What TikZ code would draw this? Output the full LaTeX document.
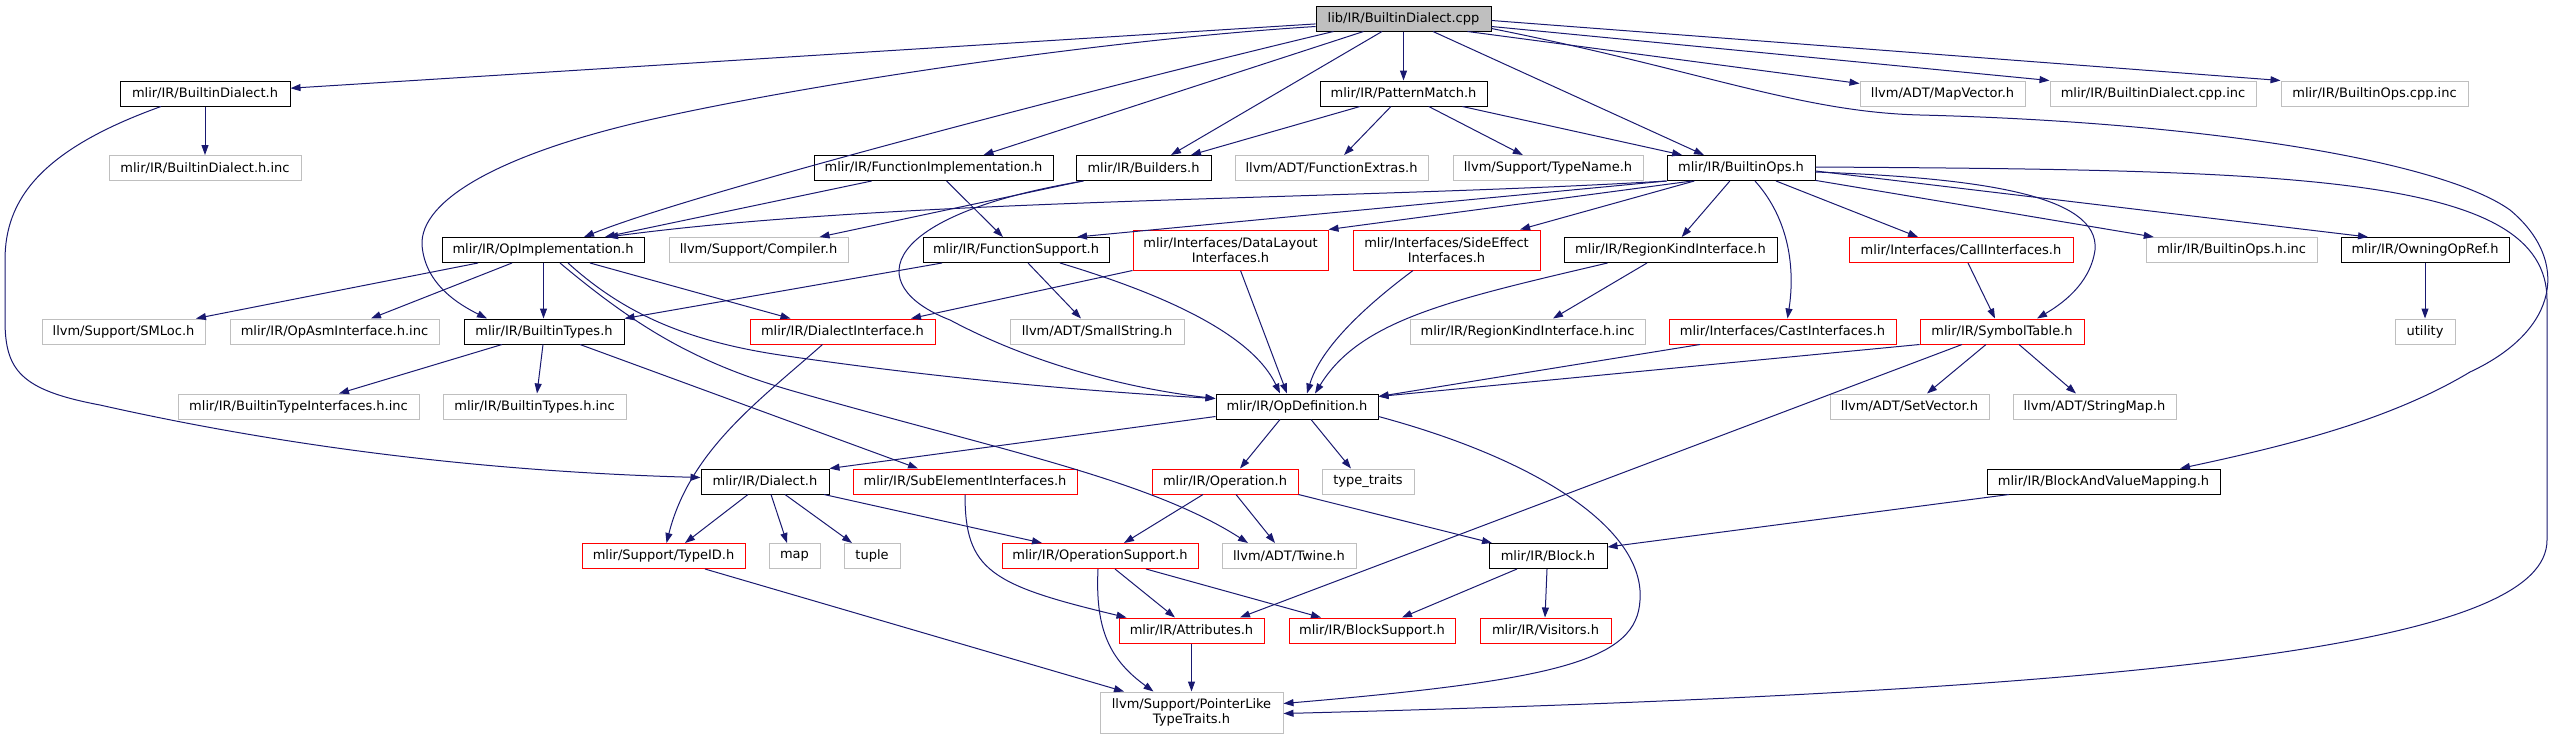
\documentclass[tikz,border=0pt]{standalone}
\usepackage{fontspec}
\setmainfont{DejaVu Sans}
\usetikzlibrary{arrows.meta}
\definecolor{edgec}{HTML}{191970}
\definecolor{grayb}{HTML}{BFBFBF}
\definecolor{redb}{HTML}{FF0000}
\begin{document}
\begin{tikzpicture}[x=1pt,y=-1pt,
  nd/.style={draw, line width=1pt, inner sep=0pt, minimum height=25pt, align=center,
    font=\fontsize{13}{15}\selectfont, text=black},
  blk/.style={nd, draw=black},
  gry/.style={nd, draw=grayb},
  rd/.style={nd, draw=redb},
  rootn/.style={nd, draw=black, fill=grayb},
  e/.style={draw=edgec, line width=1pt, -{Triangle[length=10pt,width=7pt]}}]
\useasboundingbox (0,0) rectangle (2555,739);
% row 0
\node[rootn, minimum width=175pt] (root) at (1403.5,18.5) {lib/IR/BuiltinDialect.cpp};
% row 1
\node[blk, minimum width=170pt] (bdh) at (205,93.5) {mlir/IR/BuiltinDialect.h};
\node[blk, minimum width=167pt] (pm) at (1403.5,93.5) {mlir/IR/PatternMatch.h};
\node[gry, minimum width=165pt] (mapvec) at (1942.5,93.5) {llvm/ADT/MapVector.h};
\node[gry, minimum width=206pt] (bdcppinc) at (2153,93.5) {mlir/IR/BuiltinDialect.cpp.inc};
\node[gry, minimum width=187pt] (bopscppinc) at (2374.5,93.5) {mlir/IR/BuiltinOps.cpp.inc};
% row 2
\node[gry, minimum width=192pt] (bdhinc) at (205,168) {mlir/IR/BuiltinDialect.h.inc};
\node[blk, minimum width=239pt] (funcimpl) at (933.5,168) {mlir/IR/FunctionImplementation.h};
\node[blk, minimum width=135pt] (builders) at (1143.5,168) {mlir/IR/Builders.h};
\node[gry, minimum width=193pt] (funcextras) at (1331.5,168) {llvm/ADT/FunctionExtras.h};
\node[gry, minimum width=190pt] (typename) at (1548,168) {llvm/Support/TypeName.h};
\node[blk, minimum width=148pt] (bops) at (1741,168) {mlir/IR/BuiltinOps.h};
% row 3
\node[blk, minimum width=202pt] (opimpl) at (543,250) {mlir/IR/OpImplementation.h};
\node[gry, minimum width=179pt] (compiler) at (758.5,250) {llvm/Support/Compiler.h};
\node[blk, minimum width=186pt] (funcsup) at (1016,250) {mlir/IR/FunctionSupport.h};
\node[rd, minimum width=195pt, minimum height=40pt] (datalayout) at (1230.5,250) {mlir/Interfaces/DataLayout\\Interfaces.h};
\node[rd, minimum width=187pt, minimum height=40pt] (sideeffect) at (1446.5,250) {mlir/Interfaces/SideEffect\\Interfaces.h};
\node[blk, minimum width=213pt] (regionkind) at (1670.5,250) {mlir/IR/RegionKindInterface.h};
\node[rd, minimum width=224pt] (callif) at (1961,250) {mlir/Interfaces/CallInterfaces.h};
\node[gry, minimum width=171pt] (bopshinc) at (2231.5,250) {mlir/IR/BuiltinOps.h.inc};
\node[blk, minimum width=168pt] (owning) at (2425,250) {mlir/IR/OwningOpRef.h};
% row 4
\node[gry, minimum width=163pt] (smloc) at (123.5,331.5) {llvm/Support/SMLoc.h};
\node[gry, minimum width=209pt] (opasm) at (334.5,331.5) {mlir/IR/OpAsmInterface.h.inc};
\node[blk, minimum width=160pt] (btypes) at (544,331.5) {mlir/IR/BuiltinTypes.h};
\node[rd, minimum width=185pt] (dialectiface) at (842.5,331.5) {mlir/IR/DialectInterface.h};
\node[gry, minimum width=174pt] (smallstr) at (1097,331.5) {llvm/ADT/SmallString.h};
\node[gry, minimum width=235pt] (rkinc) at (1527.5,331.5) {mlir/IR/RegionKindInterface.h.inc};
\node[rd, minimum width=227pt] (cast) at (1782.5,331.5) {mlir/Interfaces/CastInterfaces.h};
\node[rd, minimum width=164pt] (symtab) at (2002,331.5) {mlir/IR/SymbolTable.h};
\node[gry, minimum width=60pt] (utility) at (2425,331.5) {utility};
% row 5
\node[gry, minimum width=241pt] (btiinc) at (298.5,406.5) {mlir/IR/BuiltinTypeInterfaces.h.inc};
\node[gry, minimum width=183pt] (btinc) at (534.5,406.5) {mlir/IR/BuiltinTypes.h.inc};
\node[blk, minimum width=162pt] (opdef) at (1297,406.5) {mlir/IR/OpDefinition.h};
\node[gry, minimum width=159pt] (setvec) at (1909.5,406.5) {llvm/ADT/SetVector.h};
\node[gry, minimum width=163pt] (stringmap) at (2094.5,406.5) {llvm/ADT/StringMap.h};
% row 6
\node[blk, minimum width=128pt] (dialect) at (765,481.5) {mlir/IR/Dialect.h};
\node[rd, minimum width=224pt] (subelem) at (965,481.5) {mlir/IR/SubElementInterfaces.h};
\node[rd, minimum width=146pt] (operation) at (1225,481.5) {mlir/IR/Operation.h};
\node[gry, minimum width=92pt] (typetraits) at (1368,481.5) {type\_traits};
\node[blk, minimum width=233pt] (bavm) at (2103.5,481.5) {mlir/IR/BlockAndValueMapping.h};
% row 7
\node[rd, minimum width=163pt] (typeid) at (663.5,556) {mlir/Support/TypeID.h};
\node[gry, minimum width=51pt] (map) at (794.5,556) {map};
\node[gry, minimum width=56pt] (tuple) at (872,556) {tuple};
\node[rd, minimum width=196pt] (opsupport) at (1100,556) {mlir/IR/OperationSupport.h};
\node[gry, minimum width=134pt] (twine) at (1289,556) {llvm/ADT/Twine.h};
\node[blk, minimum width=118pt] (block) at (1548,556) {mlir/IR/Block.h};
% row 8
\node[rd, minimum width=145pt] (attributes) at (1191.5,630.5) {mlir/IR/Attributes.h};
\node[rd, minimum width=166pt] (blocksup) at (1372,630.5) {mlir/IR/BlockSupport.h};
\node[rd, minimum width=131pt] (visitors) at (1545.5,630.5) {mlir/IR/Visitors.h};
% row 9
\node[gry, minimum width=183pt, minimum height=41pt] (ptrlike) at (1191.5,712.5) {llvm/Support/PointerLike\\TypeTraits.h};

% ---- edges from root
\draw[e] (root) -- (bdh);
\draw[e] ([yshift=-8]root.west) .. controls (1100,40) and (800,85) .. (640,122)
  .. controls (500,155) and (420,200) .. (422,245)
  .. controls (425,285) and (460,305) .. ([xshift=-57]btypes.north);
\draw[e] ([xshift=-70]root.south) .. controls (1150,75) and (700,190) .. ([xshift=41]opimpl.north);
\draw[e] ([xshift=-40]root.south) -- ([xshift=50]funcimpl.north);
\draw[e] ([xshift=-21.5]root.south) -- ([xshift=27.5]builders.north);
\draw[e] (root) -- (pm);
\draw[e] ([xshift=29.5]root.south) -- ([xshift=-37]bops.north);
\draw[e] ([xshift=64]root.south) -- ([yshift=10]mapvec.west);
\draw[e] ([yshift=-8]root.east) -- ([yshift=13]bdcppinc.west);
\draw[e] ([yshift=-2]root.east) -- ([yshift=13]bopscppinc.west);
\draw[e] ([yshift=-10]root.east) .. controls (1700,70) and (1800,112) .. (1920,115)
  .. controls (2200,122) and (2440,160) .. (2510,210)
  .. controls (2570,260) and (2560,330) .. (2470,372)
  .. controls (2390,420) and (2290,445) .. ([xshift=76.5]bavm.north);
% ---- BuiltinDialect.h
\draw[e] (bdh) -- (bdhinc);
\draw[e] ([xshift=-44]bdh.south) .. controls (40,150) and (5,200) .. (5,260) -- (5,320)
  .. controls (5,370) and (20,390) .. (100,405)
  .. controls (300,450) and (500,472) .. ([yshift=4]dialect.west);
% ---- PatternMatch.h
\draw[e] ([xshift=-43.5]pm.south) -- ([xshift=47.5]builders.north);
\draw[e] (pm) -- (funcextras);
\draw[e] (pm) -- (typename);
\draw[e] (pm) -- (bops);
% ---- FunctionImplementation.h
\draw[e] (funcimpl) -- (opimpl);
\draw[e] (funcimpl) -- (funcsup);
% ---- Builders.h
\draw[e] (builders) -- (compiler);
\draw[e] ([xshift=-60]builders.south) .. controls (880,215) and (860,285) .. (950,320)
  .. controls (1040,368) and (1140,390) .. ([yshift=8]opdef.west);
% ---- BuiltinOps.h
\draw[e] (bops.south west) .. controls (1350,200) and (900,198) .. ([xshift=65]opimpl.north);
\draw[e] (bops.south west) -- ([xshift=61]funcsup.north);
\draw[e] ([xshift=-49]bops.south) -- (datalayout.north east);
\draw[e] (bops) -- (sideeffect);
\draw[e] (bops) -- (regionkind);
\draw[e] ([xshift=14]bops.south) .. controls (1790,220) and (1795,270) .. ([xshift=5]cast.north);
\draw[e] ([xshift=35]bops.south) -- ([xshift=-43]callif.north);
\draw[e] ([yshift=-4]bops.east) .. controls (1980,178) and (2100,195) .. (2095,250)
  .. controls (2090,285) and (2060,305) .. ([xshift=35]symtab.north);
\draw[e] (bops) -- (bopshinc);
\draw[e] ([yshift=-3]bops.east) -- ([xshift=-57]owning.north);
\draw[e] ([yshift=1]bops.east) .. controls (2300,170) and (2547,175) .. (2547,300) -- (2547,540)
  .. controls (2547,640) and (2200,690) .. ([yshift=-1]ptrlike.east);
% ---- OpImplementation.h
\draw[e] ([xshift=-65]opimpl.south) -- ([xshift=72.5]smloc.north);
\draw[e] ([xshift=-31]opimpl.south) -- ([xshift=36.5]opasm.north);
\draw[e] ([xshift=0.5]opimpl.south) -- ([xshift=-0.5]btypes.north);
\draw[e] ([xshift=47]opimpl.south) -- ([xshift=-52]dialectiface.north);
\draw[e] ([xshift=25]opimpl.south) .. controls (620,310) and (680,340) .. (780,355)
  .. controls (950,380) and (1100,392) .. ([yshift=8]opdef.west);
\draw[e] ([xshift=17]opimpl.south) .. controls (640,330) and (700,365) .. (800,393)
  .. controls (1000,450) and (1150,480) .. ([xshift=-41]twine.north);
% ---- BuiltinTypes.h
\draw[e] ([xshift=-42]btypes.south) -- ([xshift=40.5]btiinc.north);
\draw[e] ([xshift=-1]btypes.south) -- ([xshift=2.5]btinc.north);
\draw[e] ([xshift=36]btypes.south) -- ([xshift=-47]subelem.north);
% ---- FunctionSupport.h
\draw[e] ([xshift=-74]funcsup.south) -- (btypes.north east);
\draw[e] ([xshift=12]funcsup.south) -- ([xshift=-16]smallstr.north);
\draw[e] ([xshift=44]funcsup.south) .. controls (1150,290) and (1250,330) .. ([xshift=-17]opdef.north);
% ---- interfaces
\draw[e] (datalayout.south west) -- ([xshift=68.5]dialectiface.north);
\draw[e] ([xshift=10]datalayout.south) -- ([xshift=-10]opdef.north);
\draw[e] ([xshift=-33.5]sideeffect.south) .. controls (1360,310) and (1320,350) .. ([xshift=10]opdef.north);
\draw[e] ([xshift=-23.5]regionkind.south) -- ([xshift=25.5]rkinc.north);
\draw[e] ([xshift=-63]regionkind.south) .. controls (1450,300) and (1360,320) .. ([xshift=18]opdef.north);
\draw[e] ([xshift=-82.5]cast.south) -- ([yshift=10]opdef.east);
\draw[e] ([xshift=7]callif.south) -- ([xshift=-7]symtab.north);
% ---- SymbolTable.h
\draw[e] (symtab.south west) -- ([yshift=10]opdef.east);
\draw[e] ([xshift=-16]symtab.south) -- ([xshift=17.5]setvec.north);
\draw[e] ([xshift=17]symtab.south) -- ([xshift=-18.5]stringmap.north);
\draw[e] ([xshift=-40]symtab.south) -- ([xshift=48.5]attributes.north);
% ---- OwningOpRef.h
\draw[e] (owning) -- (utility);
% ---- DialectInterface.h
\draw[e] ([xshift=-20]dialectiface.south) .. controls (760,400) and (690,450) .. ([xshift=3]typeid.north);
% ---- OpDefinition.h
\draw[e] ([yshift=-10]opdef.west) -- (dialect.north east);
\draw[e] ([xshift=-17]opdef.south) -- ([xshift=15]operation.north);
\draw[e] ([xshift=14]opdef.south) -- ([xshift=-17]typetraits.north);
\draw[e] ([yshift=-10]opdef.east) .. controls (1540,460) and (1645,530) .. (1640,600)
  .. controls (1637,660) and (1560,680) .. ([yshift=9]ptrlike.east);
% ---- Dialect.h
\draw[e] ([xshift=-17]dialect.south) -- ([xshift=21.5]typeid.north);
\draw[e] ([xshift=6]dialect.south) -- ([xshift=-7.5]map.north);
\draw[e] ([xshift=20]dialect.south) -- ([xshift=-20]tuple.north);
\draw[e] ([xshift=59]dialect.south) -- ([xshift=-58]opsupport.north);
% ---- SubElementInterfaces.h
\draw[e] (subelem.south) .. controls (965,570) and (990,585) .. ([xshift=-65]attributes.north);
% ---- Operation.h
\draw[e] ([xshift=-22]operation.south) -- ([xshift=24]opsupport.north);
\draw[e] ([xshift=11]operation.south) -- ([xshift=-14]twine.north);
\draw[e] (operation.south east) -- ([xshift=-56]block.north);
% ---- OperationSupport.h
\draw[e] ([xshift=15]opsupport.south) -- ([xshift=-16.5]attributes.north);
\draw[e] ([xshift=-2]opsupport.south) .. controls (1095,630) and (1110,660) .. ([xshift=-38]ptrlike.north);
\draw[e] ([xshift=46]opsupport.south) -- ([xshift=-51]blocksup.north);
% ---- others
\draw[e] ([xshift=41.5]typeid.south) -- ([xshift=-67.5]ptrlike.north);
\draw[e] (attributes) -- (ptrlike);
\draw[e] ([xshift=-31]block.south) -- ([xshift=30]blocksup.north);
\draw[e] ([xshift=-1]block.south) -- ([xshift=-0.5]visitors.north);
\draw[e] ([xshift=-94.5]bavm.south) -- ([yshift=9]block.east);
\end{tikzpicture}
\end{document}
